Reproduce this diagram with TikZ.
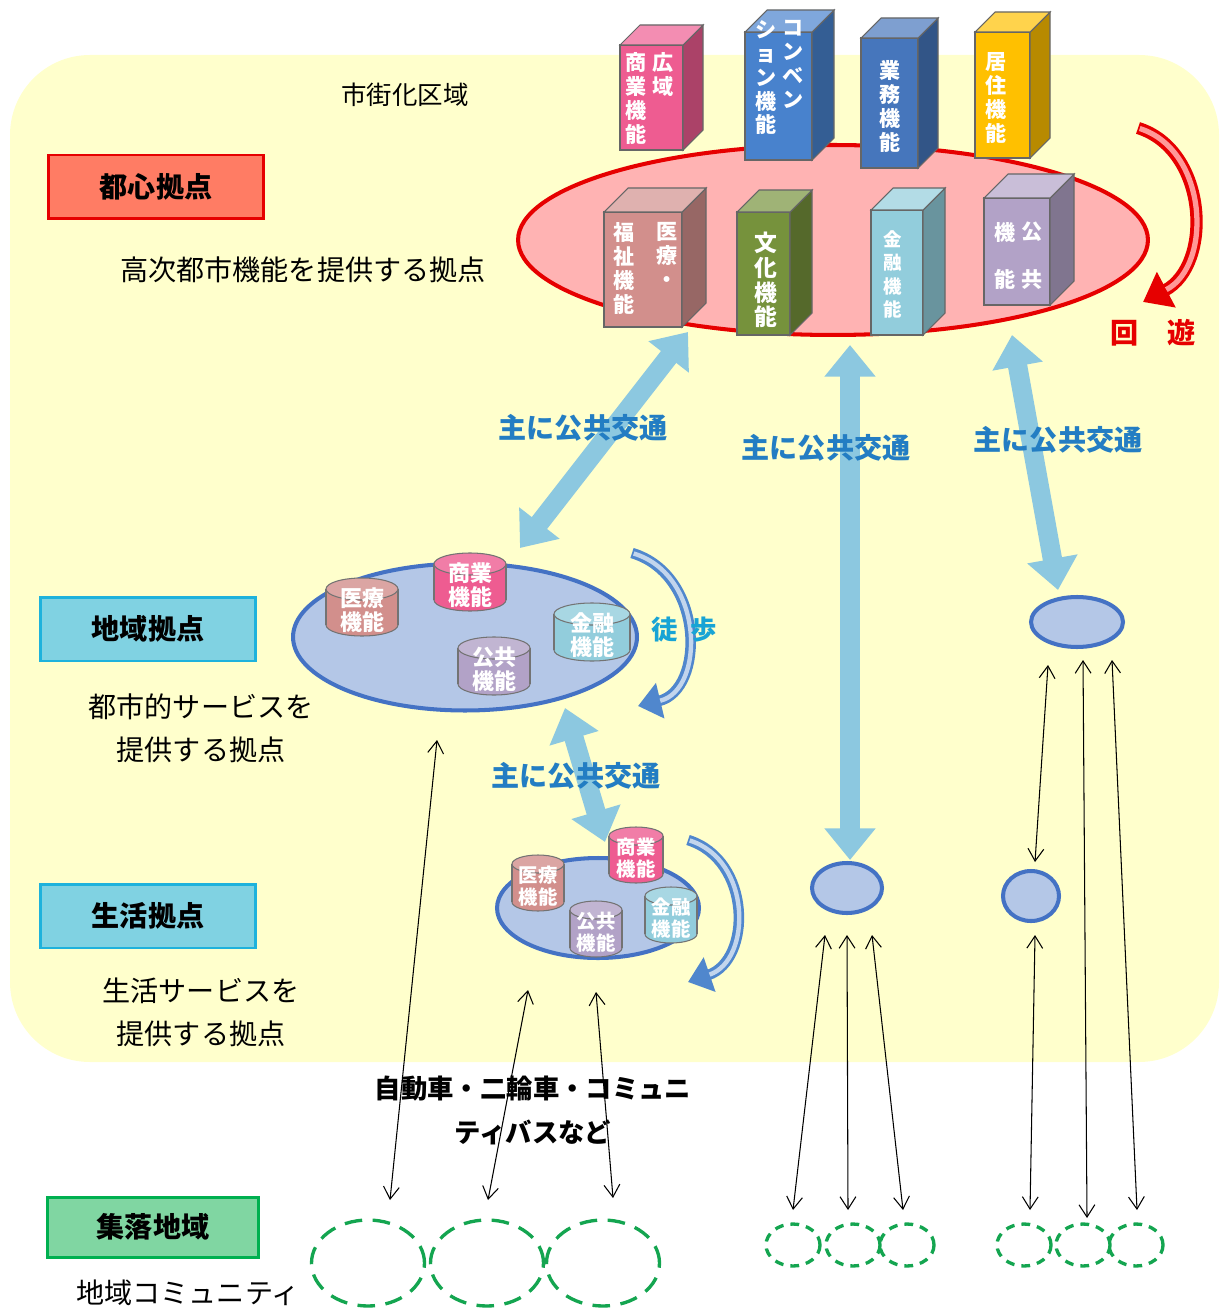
\documentclass[tikz,border=0pt]{standalone}
\usepackage{fontspec}
\setmainfont{Noto Sans CJK JP}
\usepackage{tikz}
\usetikzlibrary{arrows.meta}
\usetikzlibrary{shapes.geometric}
\usetikzlibrary{positioning}
\definecolor{bgyellow}{RGB}{255,255,204}
\definecolor{cbdpink}{RGB}{255,179,179}
\definecolor{cbdred}{RGB}{230,0,0}
\definecolor{boxsalmon}{RGB}{255,124,100}
\definecolor{boxcyan}{RGB}{128,210,226}
\definecolor{linecyan}{RGB}{30,178,220}
\definecolor{boxgreen}{RGB}{128,214,162}
\definecolor{linegreen}{RGB}{0,176,80}
\definecolor{hubfill}{RGB}{180,199,231}
\definecolor{hubline}{RGB}{68,114,196}
\definecolor{trafblue}{RGB}{140,200,224}
\definecolor{labelblue}{RGB}{35,125,195}
\definecolor{walkblue}{RGB}{80,135,205}
\definecolor{villgreen}{RGB}{20,165,80}
\definecolor{fcom}{RGB}{238,92,145}
\definecolor{fconv}{RGB}{72,130,205}
\definecolor{fbiz}{RGB}{70,118,188}
\definecolor{fres}{RGB}{255,192,0}
\definecolor{fmed}{RGB}{210,143,140}
\definecolor{fcul}{RGB}{118,146,60}
\definecolor{ffin}{RGB}{146,205,220}
\definecolor{fpub}{RGB}{178,162,199}
\tikzstyle{hubbox}=[draw, line width=1.7pt, minimum width=4.32cm, minimum height=1.28cm, inner sep=0pt, font=\fontsize{16pt}{16pt}\selectfont\bfseries]
\tikzstyle{desc}=[align=center, inner sep=0pt, font=\fontsize{16pt}{24.4pt}\selectfont]
\tikzstyle{hub}=[ellipse, draw=hubline, fill=hubfill, line width=2.3pt, inner sep=0pt]
\tikzstyle{bldtext}=[white, align=center, inner sep=0pt, anchor=north, font=\fontsize{12pt}{13.6pt}\selectfont\bfseries]
\tikzstyle{cyltext}=[white, align=center, inner sep=0pt, font=\fontsize{12.5pt}{13.6pt}\selectfont\bfseries]
\tikzstyle{smallcyltext}=[white, align=center, inner sep=0pt, font=\fontsize{11pt}{12.2pt}\selectfont\bfseries]
\tikzstyle{transit}=[text=labelblue, inner sep=0pt, font=\fontsize{16pt}{16pt}\selectfont\bfseries]
\tikzstyle{widearrow}=[draw=trafblue, line width=11pt, {Triangle[length=18pt,width=28pt]}-{Triangle[length=18pt,width=28pt]}]
\tikzstyle{thinarrow}=[draw, line width=0.6pt, {Straight Barb[length=7pt,width=9pt]}-{Straight Barb[length=7pt,width=9pt]}]
\tikzstyle{village}=[ellipse, draw=villgreen, line width=1.9pt, dash pattern=on 10pt off 6pt, inner sep=0pt]
\begin{document}
\begin{tikzpicture}[x=0.02cm, y=-0.02cm]
    \useasboundingbox (0,0) rectangle (1219,1310);

    % urbanisation area
    \fill[bgyellow, rounded corners=1.6cm] (10,55) rectangle (1219,1062);
    \node[font=\fontsize{14.5pt}{14.5pt}\selectfont] (area) at (405,95) {市街化区域};

    % city centre
    \node[ellipse, draw=cbdred, fill=cbdpink, line width=2.3pt, minimum width=12.6cm, minimum height=3.8cm, inner sep=0pt] (cbd) at (833,240) {};

    \foreach \x/\y/\w/\h/\d/\c in { 620/45/63/105/20/fcom, 745/32/67/128/22/fconv, 861/38/57/130/20/fbiz, 975/32/55/126/20/fres,
                                    604/212/78/115/24/fmed, 737/212/53/123/22/fcul, 871/210/52/125/22/ffin, 984/198/66/107/24/fpub}
    {
        \filldraw[fill=\c, draw=black!60, line width=0.6pt] (\x,\y) rectangle ++(\w,\h);
        \filldraw[fill=\c!72!black, draw=black!60, line width=0.6pt] (\x+\w,\y) -- ++(\d,-\d) -- ++(0,\h) -- ++(-\d,\d) -- cycle;
        \filldraw[fill=\c!70!white, draw=black!60, line width=0.6pt] (\x,\y) -- ++(\d,-\d) -- ++(\w,0) -- ++(-\d,\d) -- cycle;
    }

    \node[bldtext] (tCom1) at (663,52) {広\\域};
    \node[bldtext] (tCom2) at (636,52) {商\\業\\機\\能};
    \node[bldtext] (tConv1) at (793,20) {コ\\ン\\ベ\\ン};
    \node[bldtext] (tConv2) at (766,20) {シ\\ョ\\ン\\機\\能};
    \node[bldtext] (tBiz) at (890,60) {業\\務\\機\\能};
    \node[bldtext] (tRes) at (996,52) {居\\住\\機\\能};
    \node[bldtext] (tMed1) at (667,222) {医\\療\\・};
    \node[bldtext] (tMed2) at (624,222) {福\\祉\\機\\能};
    \node[bldtext, font=\fontsize{13pt}{14pt}\selectfont\bfseries] (tCul) at (766,232) {文\\化\\機\\能};
    \node[bldtext, font=\fontsize{10.5pt}{13.4pt}\selectfont\bfseries] (tFin) at (893,230) {金\\融\\機\\能};
    \node[bldtext, font=\fontsize{12pt}{27pt}\selectfont\bfseries] (tPub1) at (1032,222) {公\\共};
    \node[bldtext, font=\fontsize{12pt}{27pt}\selectfont\bfseries] (tPub2) at (1005,222) {機\\能};

    \coordinate (loopS) at (1138,128);
    \coordinate (loopE) at (1143,302);
    \draw[cbdred, line width=7pt, -{Triangle[length=15pt,width=22pt]}] (loopS) .. controls (1208,150) and (1213,265) .. (loopE);
    \draw[red!40!white, line width=3pt, shorten >=15pt, shorten <=1pt] (loopS) .. controls (1208,150) and (1213,265) .. (loopE);
    \node[text=cbdred, font=\fontsize{16pt}{16pt}\selectfont\bfseries] (kaiyu) at (1153,333) {回\hspace{1em}遊};

    % labels on the left
    \node[hubbox, fill=boxsalmon, draw=cbdred] (cbdbox) at (156,187) {都心拠点};
    \node[desc] (cbddesc) at (303,270) {高次都市機能を提供する拠点};
    \node[hubbox, fill=boxcyan, draw=linecyan] (regbox) at (148,629) {地域拠点};
    \node[desc] (regdesc) at (201,728) {都市的サービスを\\提供する拠点};
    \node[hubbox, fill=boxcyan, draw=linecyan] (locbox) at (148,916) {生活拠点};
    \node[desc] (locdesc) at (201,1012) {生活サービスを\\提供する拠点};
    \node[hubbox, fill=boxgreen, draw=linegreen, minimum width=4.22cm, minimum height=1.2cm] (vilbox) at (153,1227) {集落地域};
    \node[desc] (vildesc) at (188,1293) {地域コミュニティ};

    % hubs
    \node[hub, minimum width=6.88cm, minimum height=2.94cm] (reg) at (465,637) {};
    \node[hub, minimum width=4.04cm, minimum height=2cm] (loc) at (598,908) {};
    \node[hub, minimum width=1.84cm, minimum height=1cm] (hubA) at (1077,622) {};
    \node[hub, minimum width=1.4cm, minimum height=1cm] (hubB) at (847,888) {};
    \node[hub, minimum width=1.12cm, minimum height=1cm] (hubC) at (1031,896) {};

    \foreach \cx/\cy/\w/\h/\e/\c/\n/\t in { 362/607/72/58/11/fmed/rMed/{医療\\機能}, 470/582/72/58/11/fcom/rCom/{商業\\機能},
                                            592/632/76/58/11/ffin/rFin/{金融\\機能}, 494/666/72/58/11/fpub/rPub/{公共\\機能}}
    {
        \filldraw[fill=\c, draw=black!55, line width=0.6pt] (\cx,\cy+\h/2-\e) ellipse [x radius=\w/2, y radius=\e];
        \fill[\c] (\cx-\w/2,\cy-\h/2+\e) rectangle (\cx+\w/2,\cy+\h/2-\e);
        \draw[black!55, line width=0.6pt] (\cx-\w/2,\cy-\h/2+\e) -- (\cx-\w/2,\cy+\h/2-\e) (\cx+\w/2,\cy-\h/2+\e) -- (\cx+\w/2,\cy+\h/2-\e);
        \filldraw[fill=\c!80!white, draw=black!55, line width=0.6pt] (\cx,\cy-\h/2+\e) ellipse [x radius=\w/2, y radius=\e];
        \node[cyltext] (\n) at (\cx,\cy+3) {\t};
    }

    \foreach \cx/\cy/\w/\h/\e/\c/\n/\t in { 538/883/52/56/9/fmed/lMed/{医療\\機能}, 636/855/54/56/9/fcom/lCom/{商業\\機能},
                                            671/915/52/56/9/ffin/lFin/{金融\\機能}, 596/929/52/56/9/fpub/lPub/{公共\\機能}}
    {
        \filldraw[fill=\c, draw=black!55, line width=0.6pt] (\cx,\cy+\h/2-\e) ellipse [x radius=\w/2, y radius=\e];
        \fill[\c] (\cx-\w/2,\cy-\h/2+\e) rectangle (\cx+\w/2,\cy+\h/2-\e);
        \draw[black!55, line width=0.6pt] (\cx-\w/2,\cy-\h/2+\e) -- (\cx-\w/2,\cy+\h/2-\e) (\cx+\w/2,\cy-\h/2+\e) -- (\cx+\w/2,\cy+\h/2-\e);
        \filldraw[fill=\c!80!white, draw=black!55, line width=0.6pt] (\cx,\cy-\h/2+\e) ellipse [x radius=\w/2, y radius=\e];
        \node[smallcyltext] (\n) at (\cx,\cy+3) {\t};
    }

    % walking loops
    \coordinate (walkS) at (632,553);
    \coordinate (walkE) at (638,706);
    \draw[walkblue, line width=6pt, -{Triangle[length=13pt,width=20pt]}] (walkS) .. controls (705,575) and (705,690) .. (walkE);
    \draw[walkblue!35!white, line width=2.5pt, shorten >=13pt, shorten <=1pt] (walkS) .. controls (705,575) and (705,690) .. (walkE);
    \node[text=labelblue!70!cyan, font=\fontsize{15pt}{15pt}\selectfont\bfseries] (walk) at (684,630) {徒\hspace{0.5em}歩};

    \coordinate (walk2S) at (688,840);
    \coordinate (walk2E) at (688,982);
    \draw[walkblue, line width=6pt, -{Triangle[length=13pt,width=20pt]}] (walk2S) .. controls (752,860) and (752,960) .. (walk2E);
    \draw[walkblue!35!white, line width=2.5pt, shorten >=13pt, shorten <=1pt] (walk2S) .. controls (752,860) and (752,960) .. (walk2E);

    % public transport
    \coordinate (a1s) at (520,548);  \coordinate (a1e) at (688,332);
    \coordinate (a2s) at (850,860);  \coordinate (a2e) at (850,345);
    \coordinate (a3s) at (1058,590); \coordinate (a3e) at (1012,335);
    \coordinate (a4s) at (605,842);  \coordinate (a4e) at (565,708);
    \foreach \source/\dest in {a1s/a1e, a2s/a2e, a3s/a3e, a4s/a4e}
        \path[widearrow] (\source) -- (\dest);

    \node[transit] (t1) at (583,428) {主に公共交通};
    \node[transit] (t2) at (826,448) {主に公共交通};
    \node[transit] (t3) at (1058,440) {主に公共交通};
    \node[transit] (t4) at (576,776) {主に公共交通};

    % cars and buses
    \foreach \n/\a/\b/\c/\d in { 1/437/740/390/1200, 2/528/990/488/1200, 3/596/992/613/1198,
                                 4/825/935/793/1210, 5/847/935/848/1210, 6/872/935/903/1210,
                                 7/1048/665/1035/862, 8/1083/660/1087/1218, 9/1112/660/1137/1210, 10/1035/935/1030/1210}
    {
        \coordinate (up\n) at (\a,\b);
        \coordinate (dn\n) at (\c,\d);
        \path[thinarrow] (up\n) -- (dn\n);
    }

    \node[align=center, inner sep=0pt, font=\fontsize{15pt}{25pt}\selectfont\bfseries] (car) at (533,1110) {自動車・二輪車・コミュニ\\ティバスなど};

    % villages
    \foreach \n/\x in {v1/368, v2/487, v3/603}
        \node[village, minimum width=2.26cm, minimum height=1.72cm] (\n) at (\x,1263) {};
    \foreach \n/\x in {w1/793, w2/853, w3/907, w4/1024, w5/1083, w6/1136}
        \node[village, minimum width=1.08cm, minimum height=0.84cm, dash pattern=on 5pt off 4pt] (\n) at (\x,1245) {};

\end{tikzpicture}
\end{document}
